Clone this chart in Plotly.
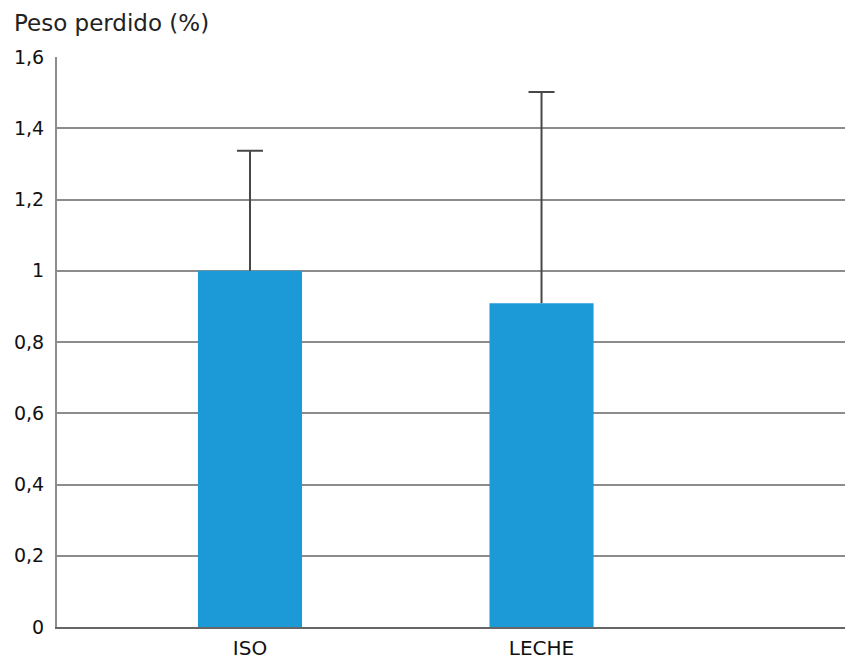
import plotly.graph_objects as go

# Weight lost per drink group (%), mean with upper error
categories = ["ISO", "LECHE"]
means = [1.0, 0.909]
err_upper = [0.337, 0.593]
y_ticks = [0, 0.2, 0.4, 0.6, 0.8, 1.0, 1.2, 1.4, 1.6]

FONT = "DejaVu Sans, Verdana, sans-serif"
BAR_COLOR = "#1b9ad7"
WHISKER_COLOR = "#474747"
BAR_WIDTH = 0.357
SLOT_PX = 291.5  # pixels per category slot

fig = go.Figure()

# Mean bars
fig.add_trace(
    go.Bar(
        x=categories,
        y=means,
        width=BAR_WIDTH,
        marker=dict(color=BAR_COLOR, line=dict(width=0)),
    )
)

# Upward whiskers: thin bars from the mean up by the error, capped at the top
fig.add_trace(
    go.Bar(
        x=categories,
        y=err_upper,
        base=means,
        width=2 / SLOT_PX,
        marker=dict(color=WHISKER_COLOR, line=dict(width=0)),
        error_y=dict(
            type="data",
            array=[0] * len(err_upper),
            color=WHISKER_COLOR,
            thickness=2,
            width=13,
        ),
        hoverinfo="skip",
    )
)

fig.update_layout(
    width=845,
    height=666,
    margin=dict(l=57, r=0, t=57, b=39),
    paper_bgcolor="white",
    plot_bgcolor="white",
    barmode="overlay",
    separators=",.",
    showlegend=False,
    font=dict(family=FONT, color="#111111"),
    annotations=[
        dict(
            text="Peso perdido (%)",
            xref="paper", yref="paper",
            x=-45 / 788, y=1 + 34 / 570,
            xanchor="left", yanchor="middle",
            showarrow=False,
            font=dict(family=FONT, size=23, color="#222222"),
        )
    ],
)

fig.update_xaxes(
    range=[-0.662, 2.041],
    automargin=False,
    showgrid=False,
    showline=True,
    linecolor="#666666",
    linewidth=2,
    ticks="",
    tickfont=dict(family=FONT, size=20, color="#111111"),
    ticklabelstandoff=2,
)

fig.update_yaxes(
    range=[0, 1.6],
    automargin=False,
    tickvals=y_ticks,
    showgrid=True,
    gridcolor="#8c8c8c",
    gridwidth=2,
    zeroline=False,
    showline=True,
    linecolor="#8c8c8c",
    linewidth=2,
    ticks="",
    tickfont=dict(family=FONT, size=19, color="#111111"),
    ticklabelstandoff=7,
)

fig.write_html("out.html")
